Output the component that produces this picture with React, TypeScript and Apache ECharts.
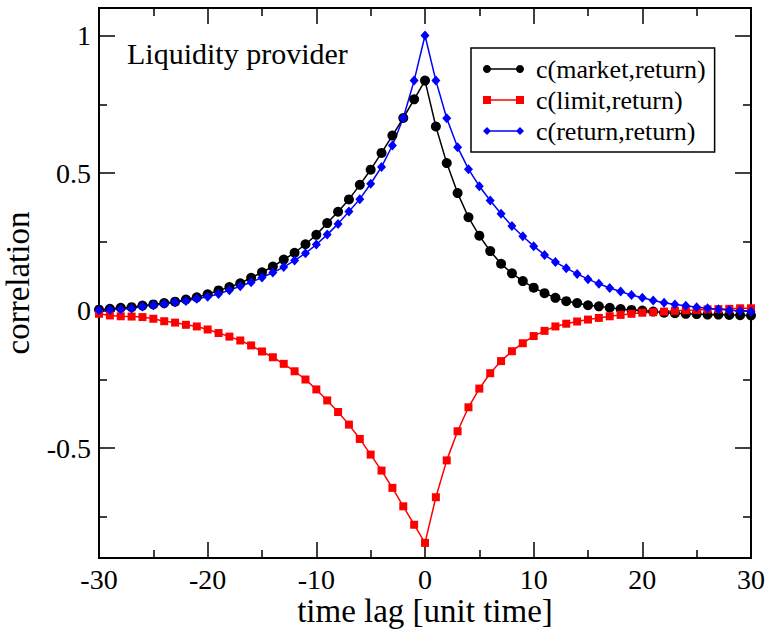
import { useEffect, useRef } from 'react';
import * as echarts from 'echarts';

const FONT = 'Liberation Serif';

const lags = [
  -30, -29, -28, -27, -26, -25, -24, -23, -22, -21, -20, -19, -18, -17, -16, -15, -14, -13, -12, -11,
  -10, -9, -8, -7, -6, -5, -4, -3, -2, -1, 0, 1, 2, 3, 4, 5, 6, 7, 8, 9, 10, 11, 12, 13, 14, 15, 16,
  17, 18, 19, 20, 21, 22, 23, 24, 25, 26, 27, 28, 29, 30,
];

const marketReturn = [
  0.003, 0.006, 0.01, 0.012, 0.018, 0.022, 0.027, 0.032, 0.04, 0.048, 0.059, 0.073, 0.085, 0.099,
  0.119, 0.139, 0.16, 0.185, 0.21, 0.241, 0.275, 0.318, 0.359, 0.404, 0.457, 0.512, 0.573, 0.636,
  0.7, 0.768, 0.836, 0.669, 0.536, 0.427, 0.339, 0.272, 0.216, 0.17, 0.135, 0.107, 0.083, 0.063,
  0.046, 0.034, 0.027, 0.019, 0.015, 0.01, 0.005, 0.002, 0.0, -0.004, -0.008, -0.01, -0.012, -0.013,
  -0.015, -0.015, -0.016, -0.017, -0.018,
];

const limitReturn = [
  -0.012, -0.018, -0.021, -0.022, -0.024, -0.03, -0.039, -0.044, -0.052, -0.058, -0.069, -0.082,
  -0.095, -0.109, -0.127, -0.149, -0.17, -0.194, -0.221, -0.251, -0.287, -0.327, -0.369, -0.415,
  -0.467, -0.524, -0.582, -0.645, -0.712, -0.779, -0.845, -0.679, -0.545, -0.439, -0.352, -0.284,
  -0.228, -0.184, -0.148, -0.119, -0.093, -0.074, -0.058, -0.048, -0.04, -0.033, -0.027, -0.021,
  -0.016, -0.012, -0.008, -0.006, -0.004, -0.001, 0.001, 0.002, 0.004, 0.005, 0.006, 0.008, 0.008,
];

const returnReturn = [
  0.001, 0.003, 0.005, 0.007, 0.015, 0.019, 0.024, 0.03, 0.035, 0.043, 0.05, 0.06, 0.074, 0.088,
  0.103, 0.12, 0.138, 0.158, 0.182, 0.208, 0.24, 0.276, 0.315, 0.36, 0.405, 0.461, 0.522, 0.6, 0.7,
  0.836, 1.0, 0.836, 0.699, 0.594, 0.514, 0.452, 0.4, 0.352, 0.307, 0.27, 0.234, 0.202, 0.176, 0.154,
  0.133, 0.114, 0.097, 0.082, 0.069, 0.056, 0.046, 0.036, 0.028, 0.022, 0.017, 0.012, 0.008, 0.005,
  0.001, -0.001, -0.004,
];

const seriesNames = ['c(market,return)', 'c(limit,return)', 'c(return,return)'];
const yMajorTicks = [-0.5, 0, 0.5, 1];
const yMinorTicks = [-0.75, -0.25, 0.25, 0.75];
const yLabels = [-0.5, 0, 0.5, 1];

// legend icons: marker - line - marker
const circleAt = (cx: number) =>
  `M${cx - 4},4 C${cx - 4},1.8 ${cx - 2.2},0 ${cx},0 C${cx + 2.2},0 ${cx + 4},1.8 ${cx + 4},4 ` +
  `C${cx + 4},6.2 ${cx + 2.2},8 ${cx},8 C${cx - 2.2},8 ${cx - 4},6.2 ${cx - 4},4 Z`;
const circlePair = `path://${circleAt(4)} M7,3.3 L34,3.3 L34,4.7 L7,4.7 Z ${circleAt(37)}`;
const squarePair =
  'path://M0,0 L8,0 L8,8 L0,8 Z M8,3.3 L33,3.3 L33,4.7 L8,4.7 Z M33,0 L41,0 L41,8 L33,8 Z';
const diamondPair =
  'path://M4,0 L8,4 L4,8 L0,4 Z M7,3.3 L34,3.3 L34,4.7 L7,4.7 Z M37,0 L41,4 L37,8 L33,4 Z';

export default function App() {
  const ref = useRef<HTMLDivElement>(null);

  useEffect(() => {
    const chart = echarts.init(ref.current!, null, { renderer: 'svg' });

    const lineStyle = { color: '#000', width: 2 };
    const tickStyle = { color: '#000', width: 1.5 };
    const labelStyle = { fontSize: 28, fontFamily: FONT, color: '#000' };

    const xBase = (pos: 'bottom' | 'top', showLabel: boolean, extra: any = {}) => ({
      type: 'value',
      position: pos,
      min: -30,
      max: 30,
      interval: 10,
      axisLine: { show: true, onZero: false, lineStyle },
      axisTick: { show: true, inside: true, length: 16, lineStyle: tickStyle },
      minorTick: { show: true, splitNumber: 2, length: 8, lineStyle: tickStyle },
      splitLine: { show: false },
      minorSplitLine: { show: false },
      axisLabel: { show: showLabel, margin: 7, ...labelStyle },
      ...extra,
    });

    const yBase = (pos: 'left' | 'right', ticks: number[], len: number, showLabel: boolean, extra: any = {}) => ({
      type: 'value',
      position: pos,
      min: -0.9,
      max: 1.1,
      axisLine: { show: true, onZero: false, lineStyle },
      axisTick: { show: true, inside: true, length: len, lineStyle: tickStyle, customValues: ticks },
      splitLine: { show: false },
      axisLabel: showLabel
        ? { show: true, margin: 8, customValues: yLabels, ...labelStyle }
        : { show: false },
      ...extra,
    });

    const makeSeries = (name: string, values: number[], color: string, symbol: string, size: any) => ({
      name,
      type: 'line',
      data: lags.map((l, i) => [l, values[i]]),
      symbol,
      symbolSize: size,
      clip: false,
      lineStyle: { color, width: 1.5 },
      itemStyle: { color, borderWidth: 0, opacity: 1 },
      emphasis: { disabled: true },
    });

    chart.setOption({
      animation: false,
      backgroundColor: '#fff',
      grid: { left: 99, right: 17, top: 8, bottom: 73, containLabel: false, outerBoundsMode: 'none' },
      xAxis: [
        xBase('bottom', true, {
          name: 'time lag [unit time]',
          nameLocation: 'middle',
          nameGap: 36,
          nameMoveOverlap: false,
          nameTextStyle: { fontSize: 33, fontFamily: FONT, color: '#000' },
        }),
        xBase('top', false),
      ],
      yAxis: [
        yBase('left', yMajorTicks, 16, true, {
          name: 'correlation',
          nameLocation: 'middle',
          nameRotate: 90,
          nameGap: 65,
          nameMoveOverlap: false,
          nameTextStyle: { fontSize: 33, fontFamily: FONT, color: '#000' },
        }),
        yBase('left', yMinorTicks, 8, false),
        yBase('right', yMajorTicks, 16, false),
        yBase('right', yMinorTicks, 8, false),
      ],
      legend: {
        left: 471,
        top: 48,
        orient: 'vertical',
        itemWidth: 41,
        itemHeight: 8,
        itemGap: 5,
        padding: [8, 9, 8, 12],
        borderColor: '#000',
        borderWidth: 1.5,
        backgroundColor: '#fff',
        selectedMode: false,
        itemStyle: { borderWidth: 0 },
        textStyle: { fontSize: 26, fontFamily: FONT, color: '#000', padding: [0, 0, 0, 7] },
        data: [
          { name: seriesNames[0], icon: circlePair },
          { name: seriesNames[1], icon: squarePair },
          { name: seriesNames[2], icon: diamondPair },
        ],
      },
      graphic: [
        {
          type: 'text',
          left: 127,
          top: 38,
          style: { text: 'Liquidity provider', fontSize: 30, fontFamily: FONT, fill: '#000' },
        },
      ],
      series: [
        makeSeries(seriesNames[0], marketReturn, '#000000', 'circle', 10),
        makeSeries(seriesNames[1], limitReturn, '#ff0000', 'rect', 8),
        makeSeries(seriesNames[2], returnReturn, '#0000ff', 'diamond', [9, 10]),
      ],
    });

    return () => chart.dispose();
  }, []);

  return <div ref={ref} style={{ position: 'fixed', left: 0, top: 0, width: 768, height: 631 }} />;
}
